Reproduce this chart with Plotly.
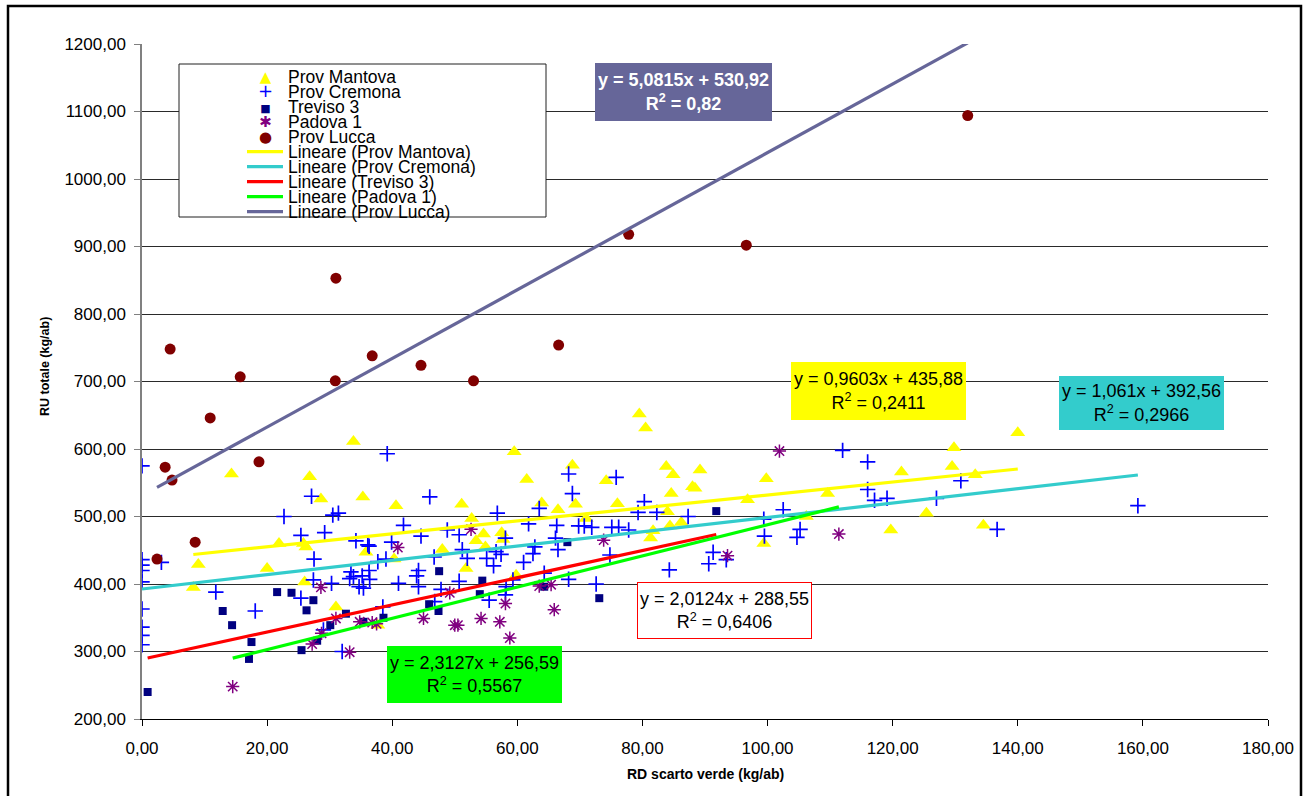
import plotly.graph_objects as go

FONT = "Liberation Sans, Arial, sans-serif"

# ---------------- data ----------------
mantova_x = [33.8, 14.3, 26.8, 28.6, 35.3, 40.6, 21.9, 25.8, 26.2, 9.0, 20.0, 26.0, 35.8, 40.3, 8.2, 31.0, 37.7,
             79.5, 80.5, 59.5, 68.8, 61.5, 74.2, 51.1, 63.9, 66.5, 69.3, 76.0, 52.7, 71.0, 54.6, 53.4, 57.5, 57.7,
             54.9, 48.0, 51.8, 59.8,
             83.8, 84.9, 89.2, 88.0, 88.4, 84.6, 99.8, 96.8, 109.6, 84.0, 86.2, 84.4, 81.7, 81.3, 99.4, 106.2, 119.7,
             140.0, 129.8, 129.5, 121.4, 133.2, 125.4, 134.5]
mantova_y = [611, 563, 559, 526, 529, 516, 460, 460, 455, 429, 423, 403, 447, 437, 395, 366, 339,
             652, 631, 596, 576, 555, 553, 518, 520, 510, 518, 519, 497, 497, 474, 464, 476, 466,
             455, 451, 423, 413,
             574, 562, 569, 544, 542, 534, 556, 525, 534, 507, 491, 486, 479, 468, 460, 500, 480,
             624, 602, 574, 566, 562, 505, 487]

cremona_x = [0, 0, 0, 0, 0, 0, 0, 0, 0,
             39.2, 27.1, 22.7, 30.5, 31.4, 25.4, 29.2, 34.2, 36.1, 36.3, 39.9, 3.1, 27.5, 27.4, 30.3, 11.8, 25.4,
             18.1, 33.4, 33.8, 33.2, 35.2, 36.3, 36.4, 34.7, 35.4, 37.7, 39.0, 38.5, 41.0, 29.0, 32.0,
             46.0, 68.2, 68.8, 75.8, 80.3, 79.3, 63.5, 56.8, 41.8, 44.6, 48.8, 50.7, 61.8, 66.3, 69.8, 70.7, 71.9,
             75.1, 76.2, 77.8, 58.1, 66.1, 66.5, 51.2, 56.6, 57.4, 62.8, 62.5, 46.7, 52.0, 55.1, 61.0, 74.8, 56.2,
             44.2, 43.9, 44.2, 50.7, 47.8, 46.8, 55.5, 58.2, 58.1, 59.3, 64.3, 68.2, 72.6,
             82.3, 87.3, 112.0, 116.0, 116.0, 117.1, 119.1, 99.4, 102.5, 99.5, 105.2, 104.7, 91.3, 90.6, 93.4, 84.3,
             130.9, 127.0, 136.7, 159.2]
cremona_y = [575, 436, 428, 420, 403, 363, 336, 324, 310,
             593, 530, 500, 502, 505, 472, 476, 464, 458, 456, 462, 432, 437, 406, 401, 388, 379,
             360, 418, 411, 408, 412, 420, 407, 396, 394, 433, 437, 366, 401, 332, 300,
             529, 563, 534, 558, 522, 506, 512, 505, 487, 471, 480, 473, 489, 487, 486, 486, 484,
             484, 484, 480, 468, 468, 451, 451, 448, 444, 455, 445, 440, 438, 438, 432, 443, 427,
             420, 412, 396, 404, 392, 374, 376, 396, 384, 406, 416, 407, 400,
             506, 500, 598, 581, 540, 524, 527, 496, 510, 471, 481, 469, 447, 430, 436, 421,
             553, 527, 481, 516]

treviso_x = [0.9, 12.9, 14.4, 17.5, 17.1, 21.6, 23.9, 27.4, 26.3, 32.6, 30.1, 28.0, 25.5, 35.4, 38.6,
             47.5, 54.4, 54.0, 45.9, 47.4, 68.0, 64.3, 73.1, 91.8]
treviso_y = [240, 360, 339, 314, 289, 388, 387, 376, 361, 356, 339, 316, 302, 344, 350,
             419, 405, 385, 370, 360, 462, 396, 379, 508]

padova_x = [14.5, 28.6, 31.0, 28.7, 27.2, 33.2, 34.8, 36.8, 37.5, 40.9, 52.6, 73.8, 49.2, 45.0, 50.0, 50.5,
            54.2, 57.2, 58.1, 58.8, 63.5, 65.4, 65.9, 101.9, 93.6, 111.4]
padova_y = [248, 395, 349, 327, 311, 299, 344, 343, 341, 454, 481, 465, 387, 349, 339, 339,
            349, 344, 371, 320, 397, 399, 362, 597, 442, 474]

lucca_x = [2.4, 3.7, 4.5, 4.8, 8.5, 10.9, 15.7, 18.7, 31.0, 30.9, 36.8, 44.6, 53.0, 66.6, 77.8, 96.6, 132.0]
lucca_y = [437, 573, 748, 554, 462, 646, 707, 581, 853, 701, 738, 724, 701, 754, 918, 902, 1094]

series_names = ["Prov Mantova", "Prov Cremona", "Treviso 3", "Padova 1", "Prov Lucca"]
trend_slope = [0.9603, 1.061, 2.0124, 2.3127, 5.0815]
trend_intercept = [435.88, 392.56, 288.55, 256.59, 530.92]
trend_r2 = [0.2411, 0.2966, 0.6406, 0.5567, 0.82]

x_ticks = [0, 20, 40, 60, 80, 100, 120, 140, 160, 180]
y_ticks = [200, 300, 400, 500, 600, 700, 800, 900, 1000, 1100, 1200]

# ---------------- styles ----------------
xs = [mantova_x, cremona_x, treviso_x, padova_x, lucca_x]
ys = [mantova_y, cremona_y, treviso_y, padova_y, lucca_y]
marker_styles = [
    dict(symbol="triangle-up", size=13, color="#FFFF00", line=dict(width=0)),
    dict(symbol="cross-thin-open", size=11, color="#0000FF", line=dict(width=1.7, color="#0000FF")),
    dict(symbol="square", size=8, color="#000080", line=dict(width=0)),
    dict(symbol="asterisk-open", size=11, color="#800080", line=dict(width=1.5, color="#800080")),
    dict(symbol="circle", size=11, color="#800000", line=dict(width=0)),
]
line_colors = ["#FFFF00", "#33CCCC", "#FF0000", "#00FF00", "#666699"]

fig = go.Figure()
for name, x, y, m in zip(series_names, xs, ys, marker_styles):
    fig.add_trace(go.Scatter(x=x, y=y, mode="markers", name=name, marker=m,
                             showlegend=False, cliponaxis=True))

for name, x, a, b, c in zip(series_names, xs, trend_slope, trend_intercept, line_colors):
    x0, x1 = min(x), max(x)
    fig.add_trace(go.Scatter(x=[x0, x1], y=[a * x0 + b, a * x1 + b], mode="lines",
                             name="Lineare (%s)" % name, line=dict(color=c, width=3.2),
                             showlegend=False))

# ---------------- layout geometry helpers ----------------
W, H = 1306, 796
L, R, T, B = 142, 1268, 44, 719


def px(xp):
    return (xp - L) / (R - L)


def py(yp):
    return (B - yp) / (B - T)


def fmt(v):
    return str(v).replace(".", ",")


shapes = []
annotations = []

# outer chart border
shapes.append(dict(type="rect", xref="paper", yref="paper", x0=px(8), x1=px(1301), y0=py(806), y1=py(6),
                   line=dict(color="black", width=2.5), fillcolor="rgba(0,0,0,0)", layer="above"))

# legend box
shapes.append(dict(type="rect", xref="paper", yref="paper", x0=px(179), x1=px(546), y0=py(217), y1=py(64),
                   line=dict(color="#202020", width=1), fillcolor="white", layer="above"))

LEG_STEP = 15.0
LEG_Y0 = 76.7
base_size = LEG_STEP / 1.3  # plotly line spacing is 1.3 em

legend_labels = series_names + ["Lineare (%s)" % n for n in series_names]
label_text = "<br>".join("<span style='font-size:17.5px'>%s</span>" % lab for lab in legend_labels)
yc_mid_labels = LEG_Y0 + LEG_STEP * (len(legend_labels) - 1) / 2
annotations.append(dict(xref="paper", yref="paper", x=px(286), y=py(yc_mid_labels), xanchor="left",
                        yanchor="middle", align="left", text=label_text, showarrow=False,
                        font=dict(family=FONT, size=base_size, color="black")))

legend_glyphs = [("\u25B2", "#FFFF00", 15), ("+", "#0000FF", 18), ("\u25A0", "#000080", 11),
                 ("\u2731", "#800080", 15), ("\u25CF", "#800000", 15)]
glyph_text = "<br>".join("<span style='color:%s;font-size:%dpx'>%s</span>" % (c, s, g)
                         for g, c, s in legend_glyphs)
yc_mid_glyph = LEG_Y0 + LEG_STEP * (len(legend_glyphs) - 1) / 2
annotations.append(dict(xref="paper", yref="paper", x=px(265), y=py(yc_mid_glyph), xanchor="center",
                        yanchor="middle", align="center", text=glyph_text, showarrow=False,
                        font=dict(family="DejaVu Sans, " + FONT, size=base_size, color="black")))

for i in range(5):
    yc = LEG_Y0 + LEG_STEP * (5 + i)
    shapes.append(dict(type="line", xref="paper", yref="paper", x0=px(247), x1=px(283), y0=py(yc), y1=py(yc),
                       line=dict(color=line_colors[i], width=3.2), layer="above"))

# equation boxes: (center px x, center px y, width, height, bg, text color, bold, border)
boxes = [
    (878.5, 391, 175, 58, "#FFFF00", "black", False, None),
    (1141.5, 403, 165, 54, "#33CCCC", "black", False, None),
    (724.8, 610.3, 175, 57, "white", "black", False, "#FF0000"),
    (474.3, 674.3, 175, 57, "#00FF00", "black", False, None),
    (683.5, 91.5, 177, 58, "#666699", "white", True, None),
]
for i, (cx, cy, bw, bh, bg, tc, bold, border) in enumerate(boxes):
    txt = "y = %sx + %s<br>R<sup>2</sup> = %s" % (fmt(trend_slope[i]), fmt(trend_intercept[i]), fmt(trend_r2[i]))
    if bold:
        txt = "<b>" + txt + "</b>"
    annotations.append(dict(xref="paper", yref="paper", x=px(cx), y=py(cy), xanchor="center", yanchor="middle",
                            text=txt, showarrow=False, align="center",
                            width=bw - (2 if border else 0), height=bh - (2 if border else 0),
                            bgcolor=bg, borderpad=0,
                            bordercolor=border if border else bg, borderwidth=1 if border else 0,
                            font=dict(family=FONT, size=18, color=tc)))

# axis titles
annotations.append(dict(xref="paper", yref="paper", x=0.5, y=py(774), xanchor="center", yanchor="middle",
                        text="<b>RD scarto verde (kg/ab)</b>", showarrow=False,
                        font=dict(family=FONT, size=14, color="black")))
annotations.append(dict(xref="paper", yref="paper", x=px(45), y=py(367), xanchor="center", yanchor="middle",
                        text="<b>RU totale (kg/ab)</b>", showarrow=False, textangle=-90,
                        font=dict(family=FONT, size=12.5, color="black")))

fig.update_layout(
    width=W, height=H,
    margin=dict(l=L, r=W - R, t=T, b=H - B, pad=0),
    paper_bgcolor="white", plot_bgcolor="white",
    separators=",.",
    showlegend=False,
    font=dict(family=FONT, size=17, color="black"),
    xaxis=dict(range=[0, 180], tickvals=x_ticks, tickformat=".2f", showgrid=False, zeroline=False,
               showline=True, linecolor="black", linewidth=1, ticks="outside", ticklen=6, tickcolor="black",
               tickfont=dict(family=FONT, size=17, color="black"), ticklabelstandoff=8, fixedrange=True),
    yaxis=dict(range=[200, 1200], tickvals=y_ticks, tickformat=".2f", showgrid=True, gridcolor="#2a2a2a",
               gridwidth=1, zeroline=False, showline=True, linecolor="#808080", linewidth=1.5,
               ticks="outside", ticklen=6, tickcolor="#808080",
               tickfont=dict(family=FONT, size=17, color="black"), ticklabelstandoff=5, fixedrange=True),
    shapes=shapes,
    annotations=annotations,
)

fig.write_html("out.html")
